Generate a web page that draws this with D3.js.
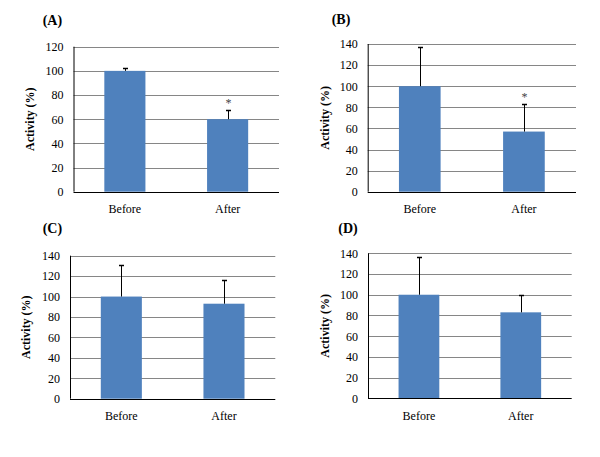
<!DOCTYPE html>
<html>
<head>
<meta charset="utf-8">
<script src="https://cdn.jsdelivr.net/npm/d3@7"></script>
<style>
  html, body { margin: 0; padding: 0; background: #fff; }
  svg { display: block; }
  svg text { font-family: "Liberation Serif", "Times New Roman", "DejaVu Serif", serif !important; fill: #000; }
</style>
</head>
<body>
<svg id="chart" width="600" height="457"></svg>
<script>
// ---- data ----
const categories = ["Before", "After"];
const panelLabels = ["(A)", "(B)", "(C)", "(D)"];
const meansA = [100, 60];
const errorsA = [2, 8];
const meansB = [100, 57];
const errorsB = [37, 26];
const meansC = [100, 93];
const errorsC = [31, 23];
const meansD = [100, 83];
const errorsD = [36, 17];
const yMaxes = [120, 140, 140, 140];
const yTickStep = 20;
const significant = [[false, true], [false, true], [false, false], [false, false]];
const yTitle = "Activity (%)";

// ---- layout ----
const layouts = [
  { left: 73.5, right: 279, top: 46.7, bottom: 191.7, tx: 42.7, ty: 25, lx: 31.7 },
  { left: 367.7, right: 576, top: 44, bottom: 191.7, tx: 331.7, ty: 24, lx: 326.7 },
  { left: 70, right: 275.3, top: 255.7, bottom: 398.7, tx: 42.7, ty: 233.3, lx: 28.3 },
  { left: 368, right: 571.7, top: 253.3, bottom: 398.3, tx: 338.3, ty: 233.3, lx: 326.7 }
];
const means = [meansA, meansB, meansC, meansD];
const errors = [errorsA, errorsB, errorsC, errorsD];

const svg = d3.select("#chart");
const barColor = "#4f81bd";
const gridColor = "#868686";
const serif = '"Liberation Serif", "Times New Roman", serif';

layouts.forEach((L, i) => {
  const g = svg.append("g").attr("font-family", serif);
  const x = d3.scaleBand().domain(categories).range([L.left, L.right])
    .paddingInner(0.6).paddingOuter(0.3);
  const y = d3.scaleLinear().domain([0, yMaxes[i]]).range([L.bottom, L.top]);
  const ticks = d3.range(0, yMaxes[i] + 0.001, yTickStep);

  // gridlines
  g.selectAll("line.grid").data(ticks.filter(t => t > 0)).enter().append("line")
    .attr("x1", L.left).attr("x2", L.right)
    .attr("y1", d => Math.round(y(d)) + 0.5).attr("y2", d => Math.round(y(d)) + 0.5)
    .attr("stroke", gridColor).attr("stroke-width", 1);

  // y axis labels via d3 axis
  const yAxis = d3.axisLeft(y).tickValues(ticks).tickSize(0).tickPadding(10)
    .tickFormat(d3.format("d"));
  const ag = g.append("g").attr("transform", `translate(${L.left},0)`).call(yAxis)
    .attr("font-family", serif).attr("font-size", 12);
  ag.select(".domain").remove();
  ag.selectAll("text").attr("fill", "#000");

  // bars
  const data = categories.map((c, k) => ({ c, v: means[i][k], e: errors[i][k], s: significant[i][k] }));
  g.selectAll("rect.bar").data(data).enter().append("rect")
    .attr("x", d => x(d.c)).attr("width", x.bandwidth())
    .attr("y", d => y(d.v)).attr("height", d => y(0) - y(d.v))
    .attr("fill", barColor);

  // error bars
  data.forEach(d => {
    const cx = Math.round(x(d.c) + x.bandwidth() / 2) + 0.5;
    const yTop = Math.round(y(d.v + d.e)) + 0.5;
    g.append("line").attr("x1", cx).attr("x2", cx)
      .attr("y1", y(d.v)).attr("y2", yTop)
      .attr("stroke", "#000").attr("stroke-width", 1);
    g.append("line").attr("x1", cx - 2.5).attr("x2", cx + 2.5)
      .attr("y1", yTop).attr("y2", yTop)
      .attr("stroke", "#000").attr("stroke-width", 1.5);
    if (d.s) {
      g.append("text").attr("x", cx).attr("y", yTop - 4)
        .attr("text-anchor", "middle").attr("font-size", 12)
        .style("fill", "#444").text("*");
    }
  });

  // axes lines
  g.append("line").attr("x1", L.left + 0.5).attr("x2", L.left + 0.5)
    .attr("y1", L.top).attr("y2", L.bottom)
    .attr("stroke", "#000").attr("stroke-width", 1);
  g.append("line").attr("x1", L.left).attr("x2", L.right)
    .attr("y1", Math.round(L.bottom) + 0.5).attr("y2", Math.round(L.bottom) + 0.5)
    .attr("stroke", "#000").attr("stroke-width", 1);

  // x labels
  const xAxis = d3.axisBottom(x).tickSize(0).tickPadding(13);
  const xg = g.append("g").attr("transform", `translate(0,${L.bottom})`).call(xAxis)
    .attr("font-family", serif).attr("font-size", 12);
  xg.select(".domain").remove();
  xg.selectAll("text").attr("fill", "#000");

  // y title
  g.append("text")
    .attr("transform", `translate(${L.lx + 2},${(L.top + L.bottom) / 2}) rotate(-90)`)
    .attr("text-anchor", "middle").attr("font-size", 12).attr("font-weight", "bold")
    .text(yTitle);

  // panel label
  g.append("text").attr("x", L.tx).attr("y", L.ty)
    .attr("font-size", 14).attr("font-weight", "bold").text(panelLabels[i]);
});
</script>
</body>
</html>
